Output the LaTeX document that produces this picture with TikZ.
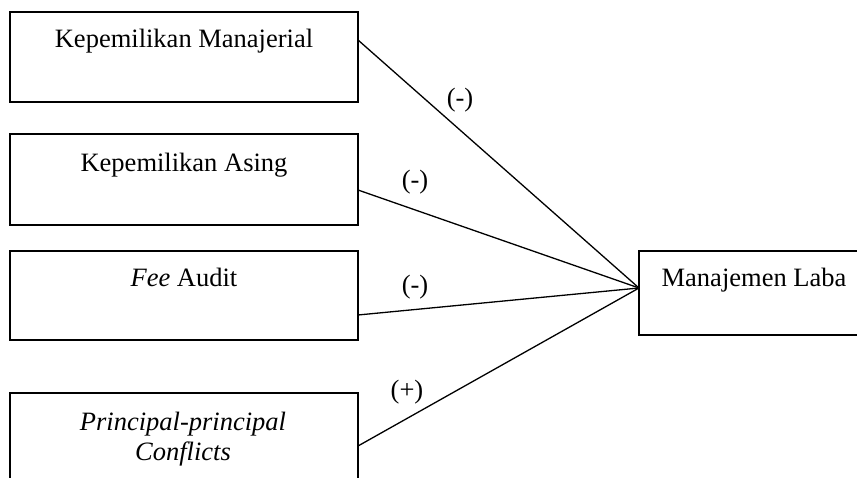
\documentclass[tikz,border=0pt]{standalone}
\usepackage{fontspec}
\setmainfont{Liberation Serif}
\begin{document}
\begin{tikzpicture}[x=1bp,y=-1bp,
  box/.style={draw,line width=2.6bp,rectangle,inner sep=0pt},
  lbl/.style={inner sep=0pt,anchor=base,font=\fontsize{26.6}{30}\selectfont,align=center},
  conn/.style={line width=1.3bp},
  sign/.style={inner sep=0pt,font=\fontsize{26.6}{30}\selectfont}]
\useasboundingbox (0,0) rectangle (857,478);
\clip (0,0) rectangle (857,478);
\fill[white] (0,0) rectangle (857,478);
\node[box,minimum width=348bp,minimum height=90bp] (b1) at (184,57) {};
\node[box,minimum width=348bp,minimum height=91bp] (b2) at (184,179.5) {};
\node[box,minimum width=348bp,minimum height=89bp] (b3) at (184,295.5) {};
\node[box,minimum width=348bp,minimum height=110bp] (b4) at (184,448) {};
\node[box,minimum width=240bp,minimum height=84bp] (ml) at (759,293) {};
\node[lbl] (t1) at (184,48) {Kepemilikan Manajerial};
\node[lbl] (t2) at (184,172) {Kepemilikan Asing};
\node[lbl] (t3) at (184,287) {\textit{Fee} Audit};
\node[lbl] (t4a) at (183,430) {\textit{Principal-principal}};
\node[lbl] (t4b) at (183,460) {\textit{Conflicts}};
\node[lbl] (tm) at (754,287) {Manajemen Laba};
\coordinate (c) at (639,288);
\coordinate (s1) at (358,40);
\coordinate (s2) at (358,190);
\coordinate (s3) at (358,315);
\coordinate (s4) at (358,446);
\draw[conn] (s1) -- (c);
\draw[conn] (s2) -- (c);
\draw[conn] (s3) -- (c);
\draw[conn] (s4) -- (c);
\node[sign] (p1) at (460,100) {(-)};
\node[sign] (p2) at (415,182) {(-)};
\node[sign] (p3) at (415,287) {(-)};
\node[sign] (p4) at (407,392) {(+)};
\end{tikzpicture}
\end{document}
